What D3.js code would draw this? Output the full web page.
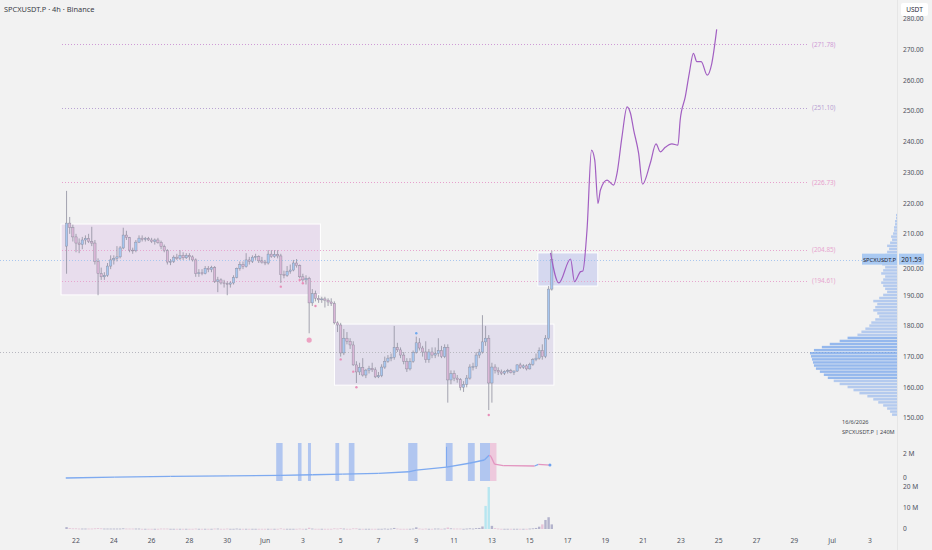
<!DOCTYPE html>
<html><head><meta charset="utf-8">
<script src="https://cdn.jsdelivr.net/npm/d3@7"></script>
<style>html,body{margin:0;padding:0;background:#f2f2f2;overflow:hidden}svg{display:block;font-family:"Noto Sans",Roboto,sans-serif}</style>
</head><body><svg id="c" width="932" height="550"></svg>
<script>
// ---------------- DATA ----------------
const title = "SPCXUSDT.P · 4h · Binance";
const unitLabel = "USDT";
const symbolLabel = "SPCXUSDT.P";
const profileDate = "16/6/2026";
const profileInfo = "SPCXUSDT.P | 240M";
// 4h candles starting 21 May 2026 12:00 : [open, high, low, close]
const candles = [
[206,224,197,213.5],[213.5,215.5,210,212],[212,213,207.5,209],[209,210,204,207],[207,208.5,203.7,206.5],
[206.5,209,205,208],[208,209.5,206.5,208.5],[208.5,210,207,207.5],[207.5,212.3,206,207],[207,208,200,201],
[201,202,190,197],[197,199,195,196],[196,197.5,195,196.5],[196.5,200.5,196,199.5],[199.5,203,198.5,201.5],
[201.5,203,200,202],[202,206,201,202.5],[202.5,206,202,205.4],[205.4,212,205,209.6],[209.6,211,208,208.8],
[208.8,209,204,204.7],[204.7,205.5,203.5,204.5],[204.5,208,204,207.3],[207.3,209.5,207,208.6],[208.6,209.5,207.5,208.2],
[208.2,209,207.5,208.5],[208.5,209,207.7,208],[208,208.7,207,207.5],[207.5,208.5,206.5,208],[208,208.7,206.8,207.2],
[207.2,207.8,205,205.8],[205.8,206.5,204,204.5],[204.5,205,200,200.8],[200.8,201.8,199.8,201],[201,203,200.5,202.4],
[202.4,203.5,201.5,202],[202,204.7,201.5,203],[203,204,201.5,202.2],[202.2,203.7,201.8,203],[203,203.7,201.5,202.5],
[202.5,203,201,201.5],[201.5,202,196,197],[197,198.5,196,197.3],[197.3,198.5,196.5,197],[197,199.5,196.8,198.8],
[198.8,199.5,197.5,198.3],[198.3,199.6,197.5,199],[199,199.5,194,194.5],[194.5,196,191,195],[195,195.5,193.5,194],
[194,195,192.5,193.8],[193.8,194.5,190,193.6],[193.6,194.5,192.5,194],[194,196.5,193.5,195.8],[195.8,199,195.5,198.8],
[198.8,201,198,200],[200,201,198.5,199.3],[199.3,203.7,199,201.5],[201.5,202.5,200,201],[201,203,200.5,202.4],
[202.4,203.5,201.5,202.6],[202.6,203,200.5,201.2],[201.2,202.5,200.3,200.8],[200.8,201.5,199.8,200.5],[200.5,204.7,200,203.4],
[203.4,204.7,202.2,202.6],[202.6,204.7,202.2,203.3],[203.3,204.7,202,202.8],[202.8,203.5,194,196.8],[196.8,198,195.5,196.5],
[196.5,199.5,196,197.8],[197.8,200,197,198.2],[198.2,201.5,197.8,200.5],[200.5,201.8,199,199.6],[199.6,200,195.5,196],
[196,197,194.5,195],[195,196.5,193.5,195.5],[195.5,196,177.6,187.5],[187.5,192,186.5,190.5],[190.5,191.5,188,189],
[189,190,187.5,188.5],[188.5,189.5,187.5,188.8],[188.8,189.5,186,188.4],[188.4,189,186.5,187.8],[187.8,189,186.5,187.3],
[187.3,188,180.5,181],[181,181.5,178,180.3],[180.3,181,170,171.2],[171.2,179,170.5,176],[176,178,174,175],
[175,176,172.5,173.8],[173.8,175,167,167.3],[167.3,168.5,161.4,165],[165,168,164,166.5],[166.5,169.5,163.5,164],
[164,166,163,165.6],[165.6,167,164.5,166.2],[166.2,168,165,165.7],[165.7,166.5,163,163.4],[163.4,165,163,163.8],
[163.8,167.5,163.3,166.6],[166.6,170,166,168.5],[168.5,170.5,168,169.5],[169.5,171,168.5,169.8],[169.8,180,169,173],
[173,174.5,171.5,172.2],[172.2,173,169.5,170.5],[170.5,171.5,167.5,168.5],[168.5,169.5,165,166],[166,169.5,165.5,168.5],
[168.5,172,168,171.4],[171.4,176.5,171,174.5],[174.5,176,172,172.8],[172.8,173.5,170,171.5],[171.5,175,168,169],
[169,172.5,168,171.5],[171.5,173,169.5,170.5],[170.5,173,169.5,171],[171,176,170,172],[172,173.5,169.5,170],
[170,174,169.5,173],[173,174,155,162.4],[162.4,165.5,161,164.5],[164.5,165.5,162,163],[163,164,161.5,162.5],
[162.5,163,159,160],[160,162,158.5,161],[161,164,160,163],[163,167.5,162.5,166.6],[166.6,168,165.5,166.8],
[166.8,171.5,166,170.5],[170.5,172.5,169.5,171.5],[171.5,183.5,171,174.8],[174.8,180,173.5,176],[176,177,152.6,161.4],
[161.4,168,155,166.6],[166.6,167.5,164.5,165.5],[165.5,166.5,164,165],[165,165.8,164,164.6],[164.6,165.5,164,165.2],
[165.2,166,164.5,165.4],[165.4,166,164.5,164.8],[164.8,165.5,164,165.3],[165.3,167.5,165,167.3],[167.3,168,166,166.5],
[166.5,167.5,166,167],[167,167.5,165.5,166],[166,168,165.8,167.5],[167.5,169.5,167,169],[169,171,168.5,169.5],
[169.5,173,169,172],[172,174,169,170],[170,177,169.5,176],[176,193,175.5,192],[192,204.5,191.5,201.59]
];
// volume per candle (millions)
const volumes = [
0.9,0.4,0.3,0.3,0.2,0.2,0.2,0.2,0.2,0.3,
0.4,0.3,0.2,0.2,0.2,0.2,0.2,0.2,0.3,0.2,
0.2,0.2,0.2,0.2,0.1,0.1,0.1,0.1,0.1,0.1,
0.2,0.2,0.2,0.1,0.1,0.1,0.1,0.1,0.1,0.1,
0.1,0.2,0.1,0.1,0.1,0.1,0.1,0.2,0.2,0.1,
0.1,0.2,0.1,0.1,0.2,0.1,0.1,0.1,0.1,0.1,
0.1,0.1,0.1,0.1,0.1,0.1,0.1,0.1,0.3,0.1,
0.1,0.1,0.1,0.1,0.2,0.1,0.1,0.6,0.2,0.1,
0.1,0.1,0.1,0.1,0.1,0.3,0.2,0.4,0.2,0.1,
0.1,0.3,0.3,0.1,0.1,0.1,0.1,0.1,0.1,0.1,
0.1,0.2,0.1,0.2,0.5,0.2,0.1,0.1,0.1,0.1,
0.2,0.8,0.2,0.1,0.2,0.1,0.1,0.2,0.2,0.1,
0.2,0.7,0.3,0.2,0.2,0.2,0.1,0.2,0.3,0.2,
0.4,0.5,1.2,11,20,1.5,0.4,0.2,0.1,0.1,
0.1,0.1,0.1,0.1,0.1,0.1,0.1,0.2,0.3,0.5,
1.1,2.2,4.3,5.6,2.2
];
const priceTicks = [150,160,170,180,190,200,210,220,230,240,250,260,270,280];
// date ticks: [month(0-based), day, label]
const dateTicks = [[4,22,"22"],[4,24,"24"],[4,26,"26"],[4,28,"28"],[4,30,"30"],[5,1,"Jun"],[5,3,"3"],[5,5,"5"],[5,7,"7"],[5,9,"9"],[5,11,"11"],[5,13,"13"],[5,15,"15"],[5,17,"17"],[5,19,"19"],[5,21,"21"],[5,23,"23"],[5,25,"25"],[5,27,"27"],[5,29,"29"],[6,1,"Jul"],[6,3,"3"]];
// target levels and where they start (days after 22 May)
const levelPrices = [271.78, 251.10, 226.73, 204.85, 194.61];
const levelStartDays = [-0.74, -0.74, -0.74, -0.74, -0.74];
const pocPrice = 171.5;
const lastPrice = 201.59;
// zones: start/end day after 22 May, low/high price
const boxDays = [[-0.79, 12.93], [13.67, 25.28], [24.43, 27.6]];
const boxPrices = [[190.1, 213.2], [160.7, 180.6], [193.0, 203.8]];
// projected path: day after 22 May, price
const forecastDays = [25.10,25.54,26.16,26.37,26.69,26.81,27.03,27.27,27.44,27.61,27.74,28.09,28.44,28.62,28.88,29.15,29.33,29.50,29.76,29.97,30.38,30.68,30.91,31.17,31.52,31.84,31.96,32.23,32.44,32.66,32.84,33.07,33.39,33.63,33.89];
const forecastPrices = [203.8,194.0,201.8,194.4,197.7,197.9,211.2,237.3,234.0,219.9,224.3,227.5,225.9,229.8,241.6,251.4,249.3,243.8,236.3,226.2,233.1,239.3,236.7,238.2,239.3,238.9,247.1,254.7,262.3,268.8,266.1,266.1,261.7,265.5,276.6];
// signal dots: candle index, price, kind
const markerIdx = [68,74,75,77,79,87,91,92,111,134];
const markerPrices = [192.8,195.0,193.9,175.4,186.5,169.1,165.1,160.0,177.6,151.0];
const markerKinds = ["s","s","s","b","s","s","s","s","u","s"];
// volume profile (1-unit price rows from 151 upward)
const vpStart = 151;
const vpVolumes = [5,7,10,14,19,24,30,38,44,50,58,64,70,74,78,82,84,85,86,87,88,84,76,68,58,50,40,36,32,28,26,22,18,20,24,22,20,24,18,14,10,12,14,16,14,12,16,14,12,15,16,14,12,10,8,10,7,5,6,4,3,3,2,2,1,1];
// cumulative indicator line (millions) at day after 22 May
const cvdDays = [-0.54,2.05,5.0,8.1,10.8,12.5,14.1,16.0,17.6,18.0,19.2,19.6,20.8,21.6,21.85,21.95,22.14,22.6,24.26,24.46,25.07];
const cvdValues = [0.0,0.08,0.13,0.18,0.22,0.27,0.33,0.38,0.52,0.66,0.85,0.9,1.23,1.5,1.9,1.8,1.15,1.03,1.0,1.14,1.08];
const cvdSpikeDay = 19.6, cvdSpikeLo = 0.9, cvdSpikeHi = 2.6;
const bandDays = [[10.59,10.93],[11.74,11.93],[12.27,12.43],[13.72,13.92],[14.43,14.73],[17.57,18.06],[19.56,19.92],[20.73,21.09],[21.37,21.9],[21.9,22.24]];
const bandKinds = ["b","b","b","b","b","b","b","b","b","p"];
const cvdTicks = [[0,"0"],[2,"2 M"]];
const volTicks = [[0,"0"],[10,"10 M"],[20,"20 M"]];

// ---------------- DRAW ----------------
const svg = d3.select("#c");
const W = 932, H = 550;
const base = new Date(2026,4,22);
const x = d3.scaleTime().domain([base, new Date(2026,6,3)]).range([76, 870]);
const y = d3.scaleLinear().domain([150, 280]).range([418, 19]);
const yC = d3.scaleLinear().domain([0, 2]).range([478, 454]);
const yV = d3.scaleLinear().domain([0, 20]).range([529, 487]);
const dayX = d => x(d3.timeMinute.offset(base, Math.round(d*1440)));
const c0 = new Date(2026,4,21,12);
const cx = i => x(d3.timeHour.offset(c0, 4*i));
const txt = "#50535e";

svg.append("rect").attr("width",W).attr("height",H).attr("fill","#f2f2f2");

// zones
const boxFill = ["rgba(205,160,222,0.25)","rgba(170,150,215,0.22)","rgba(140,150,235,0.28)"];
boxDays.forEach((b,k)=>{
  svg.append("rect").attr("x",dayX(b[0])).attr("y",y(boxPrices[k][1]))
    .attr("width",dayX(b[1])-dayX(b[0])).attr("height",y(boxPrices[k][0])-y(boxPrices[k][1]))
    .attr("fill",boxFill[k]).attr("stroke","#ffffff").attr("stroke-width",1);
});

// horizontal levels
const levelColors = ["#cf9ad6","#b9a3d3","#e7a0cd","#e7a6cf","#e7a6cf"];
levelPrices.forEach((p,k)=>{
  svg.append("line").attr("x1",dayX(levelStartDays[k])).attr("x2",808).attr("y1",Math.round(y(p))+0.5).attr("y2",Math.round(y(p))+0.5)
    .attr("stroke",levelColors[k]).attr("stroke-width",1).attr("stroke-dasharray","1,2");
  svg.append("text").attr("x",812).attr("y",y(p)+2.3).attr("font-size",6.3).attr("fill",levelColors[k])
    .text("("+p.toFixed(2)+")");
});
// poc and last price lines
svg.append("line").attr("x1",0).attr("x2",897).attr("y1",Math.round(y(pocPrice))+0.5).attr("y2",Math.round(y(pocPrice))+0.5)
  .attr("stroke","#b8b8c0").attr("stroke-width",1).attr("stroke-dasharray","1,2");
svg.append("line").attr("x1",0).attr("x2",897).attr("y1",Math.round(y(lastPrice))+0.5).attr("y2",Math.round(y(lastPrice))+0.5)
  .attr("stroke","#a9c6ee").attr("stroke-width",1).attr("stroke-dasharray","1,2");

// volume profile
const maxVp = d3.max(vpVolumes);
const vpW = d3.scaleLinear().domain([0,maxVp]).range([0,87]);
vpVolumes.forEach((v,k)=>{
  const p = vpStart + k;
  const yt = y(p+0.5), yb = y(p-0.5);
  svg.append("rect").attr("x",897-vpW(v)).attr("y",yt).attr("width",vpW(v)).attr("height",Math.max(0.5,yb-yt-0.6))
    .attr("fill",(p>=163 && p<=176)?"rgba(110,160,235,0.7)":"rgba(130,170,235,0.55)");
});

// candles
const g = svg.append("g");
candles.forEach((c,i)=>{
  const [o,h,l,cl] = c;
  const xx = cx(i);
  const up = cl >= o;
  g.append("line").attr("x1",xx).attr("x2",xx).attr("y1",y(h)).attr("y2",y(l)).attr("stroke","#8f8f9e").attr("stroke-width",0.8);
  const top = y(Math.max(o,cl)), bot = y(Math.min(o,cl));
  g.append("rect").attr("x",xx-1.15).attr("y",top).attr("width",2.3).attr("height",Math.max(0.8,bot-top))
    .attr("fill",up?"#a6c6ef":"#d9b6d6").attr("stroke","#8c8c9c").attr("stroke-width",0.45);
});

// markers
markerIdx.forEach((i,k)=>{
  const kind = markerKinds[k];
  svg.append("circle").attr("cx",cx(i)).attr("cy",y(markerPrices[k])).attr("r",kind==="b"?2.6:1.2)
    .attr("fill",kind==="u"?"#6ea9ef":(kind==="b"?"#eda2c2":"#e88fb9"));
});

// forecast path
const fc = forecastDays.map((d,k)=>[dayX(d), y(forecastPrices[k])]);
svg.append("path").attr("d",d3.line().curve(d3.curveMonotoneX)(fc)).attr("fill","none")
  .attr("stroke","#a25fc2").attr("stroke-width",1.2);

// indicator pane bands
bandDays.forEach((b,k)=>{
  svg.append("rect").attr("x",dayX(b[0])).attr("y",443).attr("width",dayX(b[1])-dayX(b[0])).attr("height",38)
    .attr("fill",bandKinds[k]==="p"?"rgba(236,190,215,0.8)":"rgba(150,180,240,0.7)");
});
// indicator line
for(let k=1;k<cvdDays.length;k++){
  svg.append("line").attr("x1",dayX(cvdDays[k-1])).attr("y1",yC(cvdValues[k-1])).attr("x2",dayX(cvdDays[k])).attr("y2",yC(cvdValues[k]))
    .attr("stroke",cvdValues[k]>=cvdValues[k-1]?"#7eaaf0":"#e395c0").attr("stroke-width",1.3);
}
svg.append("line").attr("x1",dayX(cvdSpikeDay)).attr("x2",dayX(cvdSpikeDay)).attr("y1",yC(cvdSpikeLo)).attr("y2",yC(cvdSpikeHi))
  .attr("stroke","#7eaaf0").attr("stroke-width",1);
svg.append("circle").attr("cx",dayX(cvdDays[cvdDays.length-1])).attr("cy",yC(cvdValues[cvdValues.length-1])).attr("r",1.5).attr("fill","#6ea2ee");

// volume bars
volumes.forEach((v,i)=>{
  const c = candles[i];
  const up = c[3] >= c[0];
  const col = v > 8 ? "#b7e6f0" : (up ? "#b3b3cc" : "#e6c4d8");
  svg.append("rect").attr("x",cx(i)-1.2).attr("y",yV(v)).attr("width",2.4).attr("height",Math.max(0.8,yV(0)-yV(v))).attr("fill",col);
});

// right axis separator
svg.append("line").attr("x1",897.5).attr("x2",897.5).attr("y1",0).attr("y2",550).attr("stroke","#e6e6e6");

// price axis labels (a label hidden under the last-price tag is nudged just below it)
const ly = y(lastPrice);
priceTicks.forEach(p=>{
  let ty = y(p)+2.4;
  if (Math.abs(y(p)-ly) < 9) ty = ly + 11.5;
  svg.append("text").attr("x",903).attr("y",ty).attr("font-size",6.6).attr("fill",txt).text(p.toFixed(2));
});
cvdTicks.forEach(t=>{
  svg.append("text").attr("x",903).attr("y",yC(t[0])+2.4).attr("font-size",6.6).attr("fill",txt).text(t[1]);
});
volTicks.forEach(t=>{
  svg.append("text").attr("x",903).attr("y",yV(t[0])+2.4).attr("font-size",6.6).attr("fill",txt).text(t[1]);
});
// date axis labels
dateTicks.forEach(t=>{
  svg.append("text").attr("x",x(new Date(2026,t[0],t[1]))).attr("y",543).attr("text-anchor","middle")
    .attr("font-size",6.8).attr("fill",txt).text(t[2]);
});

// USDT box
svg.append("rect").attr("x",901).attr("y",3).attr("width",27).attr("height",13).attr("rx",2).attr("fill","#ffffff");
svg.append("text").attr("x",914.5).attr("y",12.3).attr("text-anchor","middle").attr("font-size",6.6).attr("fill","#2a2e39").text(unitLabel);

// last price labels
svg.append("rect").attr("x",899).attr("y",ly-6).attr("width",25).attr("height",11).attr("fill","#a9c9f2");
svg.append("text").attr("x",911.5).attr("y",ly+2.3).attr("text-anchor","middle").attr("font-size",6.6).attr("fill","#1f2533").text(lastPrice.toFixed(2));
svg.append("rect").attr("x",862).attr("y",ly-6).attr("width",35).attr("height",11).attr("fill","#a9c9f2");
svg.append("text").attr("x",879.5).attr("y",ly+2.3).attr("text-anchor","middle").attr("font-size",5.8).attr("fill","#1f2533").text(symbolLabel);

// profile info
svg.append("text").attr("x",842).attr("y",424).attr("font-size",5.6).attr("fill","#44464f").text(profileDate);
svg.append("text").attr("x",842).attr("y",434).attr("font-size",5.6).attr("fill","#44464f").text(profileInfo);

// title
svg.append("text").attr("x",4).attr("y",12).attr("font-size",7.4).attr("fill","#3b3d47").text(title);
</script></body></html>
